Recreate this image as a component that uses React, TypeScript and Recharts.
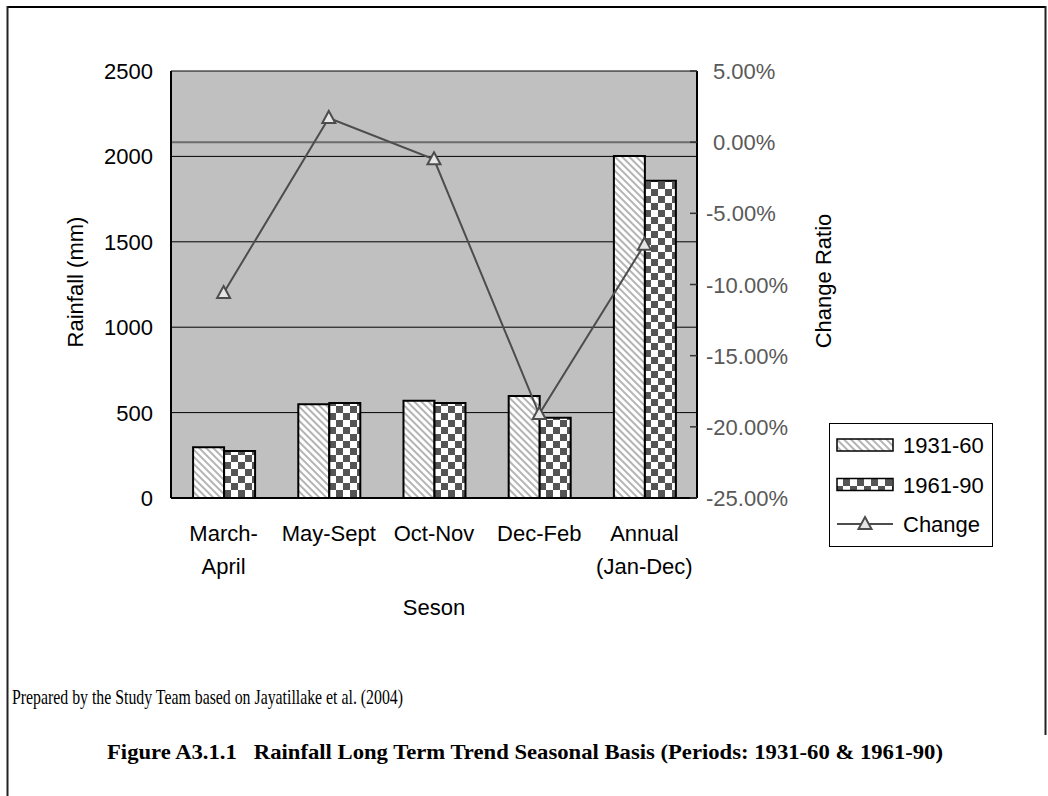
import React from 'react';
import {
  ComposedChart,
  Bar,
  Line,
  XAxis,
  YAxis,
  CartesianGrid,
  ReferenceLine,
  Legend,
  Label,
} from 'recharts';

// Seasonal rainfall (mm) for the two climate normals and the change ratio (%)
const seasons = ['March-\nApril', 'May-Sept', 'Oct-Nov', 'Dec-Feb', 'Annual\n(Jan-Dec)'];
const rain1931to60 = [297, 549, 570, 597, 2002];
const rain1961to90 = [275, 556, 556, 470, 1858];
const changeRatio = [-10.6, 1.7, -1.2, -19.1, -7.2];

const rainfallTicks = [0, 500, 1000, 1500, 2000, 2500];
const ratioTicks = [-25, -20, -15, -10, -5, 0, 5];
const seasonEdges = [1, 2, 3, 4];

const data = seasons.map((season, i) => ({
  season,
  p1: rain1931to60[i],
  p2: rain1961to90[i],
  change: changeRatio[i],
}));

const SANS = '"Liberation Sans", Arial, sans-serif';
const SERIF = '"Liberation Serif", "Times New Roman", serif';
const LINE_GREY = '#4d4d4d';

const SeasonTick = (props: any) => {
  const { x, y, payload } = props;
  const lines = String(payload.value).split('\n');
  return (
    <text x={x} y={y} textAnchor="middle" fontSize={22} fontFamily={SANS} fill="#000">
      {lines.map((line, i) => (
        <tspan key={i} x={x} dy={i === 0 ? 35 : 33}>
          {line}
        </tspan>
      ))}
    </text>
  );
};

const RainTick = (props: any) => {
  const { x, y, payload } = props;
  return (
    <text x={x} y={y} dy={8} textAnchor="end" fontSize={22} fontFamily={SANS} fill="#000">
      {payload.value}
    </text>
  );
};

const RatioTick = (props: any) => {
  const { x, y, payload } = props;
  const v = Number(payload.value);
  // positive values leave room for the minus sign, so the digits line up
  return (
    <text x={x + (v >= 0 ? 7 : 0)} y={y} dy={8} textAnchor="start" fontSize={22} fontFamily={SANS} fill="#595959">
      {`${v.toFixed(2)}%`}
    </text>
  );
};

const NoLabel = () => <g />;

const TriangleDot = (props: any) => {
  const { cx, cy, index } = props;
  if (cx == null || cy == null) return <g key={index} />;
  return (
    <path
      key={index}
      d={`M${cx},${cy - 7} L${cx + 6.5},${cy + 5} L${cx - 6.5},${cy + 5} Z`}
      fill="#e6e6e6"
      stroke={LINE_GREY}
      strokeWidth={2}
    />
  );
};

const VerticalTitle = ({ viewBox, text, baselineX, centerY }: any) => {
  const cx = viewBox.x + baselineX;
  const cy = centerY;
  return (
    <text
      x={cx}
      y={cy}
      transform={`rotate(-90 ${cx} ${cy})`}
      textAnchor="middle"
      fontSize={22}
      fontFamily={SANS}
      fill="#000"
    >
      {text}
    </text>
  );
};

const renderLegend = (props: any) => {
  const payload = props.payload || [];
  return (
    <svg width={164} height={124} style={{ display: 'block' }}>
      <rect x={0.5} y={0.5} width={163} height={123} fill="#fff" stroke="#000" strokeWidth={1} />
      {payload.map((entry: any, i: number) => {
        const cy = 22 + i * 39.5;
        const isLine = entry.type === 'line';
        return (
          <g key={entry.value}>
            {isLine ? (
              <g>
                <line x1={8} x2={64} y1={cy} y2={cy} stroke={LINE_GREY} strokeWidth={2} />
                <TriangleDot cx={36} cy={cy} index={i} />
              </g>
            ) : (
              <rect x={8} y={cy - 6} width={56} height={12} fill={entry.color} stroke="#000" strokeWidth={1.5} />
            )}
            <text x={74} y={cy} dy={8} fontSize={22} fontFamily={SANS} fill="#000">
              {entry.value}
            </text>
          </g>
        );
      })}
    </svg>
  );
};

export default function App() {
  return (
    <div style={{ position: 'absolute', left: 0, top: 0, width: 1048, height: 796, background: '#fff' }}>
      <ComposedChart
        width={1048}
        height={796}
        data={data}
        margin={{ top: 71, right: 151, bottom: 168, left: 0 }}
        barCategoryGap="21%"
        barGap={0}
      >
        <defs>
          <pattern id="stripes" width={5} height={5} patternUnits="userSpaceOnUse" patternTransform="rotate(45)">
            <rect width={5} height={5} fill="#fff" />
            <rect width={5} height={2} fill="#b4b4b4" />
          </pattern>
          <pattern id="checker" width={14} height={14} patternUnits="userSpaceOnUse">
            <rect width={14} height={14} fill="#fff" />
            <rect x={0} y={0} width={7} height={7} fill="#555" />
            <rect x={7} y={7} width={7} height={7} fill="#555" />
          </pattern>
        </defs>

        <CartesianGrid yAxisId="left" vertical={false} fill="#c0c0c0" stroke="#000" strokeWidth={1} />

        {/* small upward ticks between the season groups */}
        <XAxis
          xAxisId="edges"
          type="number"
          domain={[0, 5]}
          ticks={seasonEdges}
          mirror
          height={0}
          axisLine={false}
          tickSize={6}
          tickLine={{ stroke: '#000', strokeWidth: 1.5 }}
          tick={NoLabel}
        />
        <XAxis
          dataKey="season"
          height={130}
          tickLine={false}
          tickSize={6}
          tickMargin={2}
          interval={0}
          axisLine={{ stroke: '#000', strokeWidth: 2 }}
          tick={SeasonTick}
        >
          <Label value="Seson" position="insideBottom" offset={13} fontSize={22} fontFamily={SANS} fill="#000" />
        </XAxis>

        <YAxis
          yAxisId="left"
          domain={[0, 2500]}
          ticks={rainfallTicks}
          width={171}
          tickLine={false}
          tickSize={0}
          tickMargin={18}
          interval={0}
          axisLine={{ stroke: '#000', strokeWidth: 2 }}
          tick={RainTick}
        >
          <Label content={(p: any) => <VerticalTitle {...p} text="Rainfall (mm)" baselineX={83} centerY={282} />} />
        </YAxis>
        <YAxis
          yAxisId="right"
          orientation="right"
          domain={[-25, 5]}
          ticks={ratioTicks}
          width={200}
          tickSize={-7}
          tickMargin={16}
          interval={0}
          axisLine={{ stroke: '#000', strokeWidth: 2 }}
          tickLine={{ stroke: '#333', strokeWidth: 1.5 }}
          tick={RatioTick}
        >
          <Label content={(p: any) => <VerticalTitle {...p} text="Change Ratio" baselineX={134} centerY={281} />} />
        </YAxis>

        <ReferenceLine yAxisId="right" y={0} stroke="#6b6b6b" strokeWidth={2} />

        <Bar
          yAxisId="left"
          dataKey="p1"
          name="1931-60"
          fill="url(#stripes)"
          stroke="#000"
          strokeWidth={2}
          isAnimationActive={false}
        />
        <Bar
          yAxisId="left"
          dataKey="p2"
          name="1961-90"
          fill="url(#checker)"
          stroke="#000"
          strokeWidth={2}
          isAnimationActive={false}
        />
        <Line
          yAxisId="right"
          dataKey="change"
          name="Change"
          stroke={LINE_GREY}
          strokeWidth={2}
          dot={TriangleDot}
          activeDot={false}
          isAnimationActive={false}
        />

        <Legend
          layout="horizontal"
          align="center"
          verticalAlign="middle"
          wrapperStyle={{ left: 829, top: 423, right: 'auto', bottom: 'auto', width: 164, height: 124 }}
          content={renderLegend}
        />
      </ComposedChart>

      <svg
        width={1048}
        height={796}
        style={{ position: 'absolute', left: 0, top: 0, pointerEvents: 'none' }}
      >
        <line x1={7} x2={1046} y1={7} y2={7} stroke="#000" strokeWidth={2} />
        <line x1={7.5} x2={7.5} y1={6} y2={796} stroke="#222" strokeWidth={2} />
        <line x1={1045.5} x2={1045.5} y1={6} y2={735} stroke="#222" strokeWidth={2} />
        <text
          x={12}
          y={704}
          fontSize={21}
          fontFamily={SERIF}
          fill="#000"
          textLength={391}
          lengthAdjust="spacingAndGlyphs"
        >
          Prepared by the Study Team based on Jayatillake et al. (2004)
        </text>
        <text
          x={107}
          y={759}
          fontSize={21}
          fontWeight="bold"
          fontFamily={SERIF}
          fill="#000"
          textLength={836}
          lengthAdjust="spacingAndGlyphs"
          style={{ whiteSpace: 'pre' }}
        >
          {'Figure A3.1.1   Rainfall Long Term Trend Seasonal Basis (Periods: 1931-60 & 1961-90)'}
        </text>
      </svg>
    </div>
  );
}
